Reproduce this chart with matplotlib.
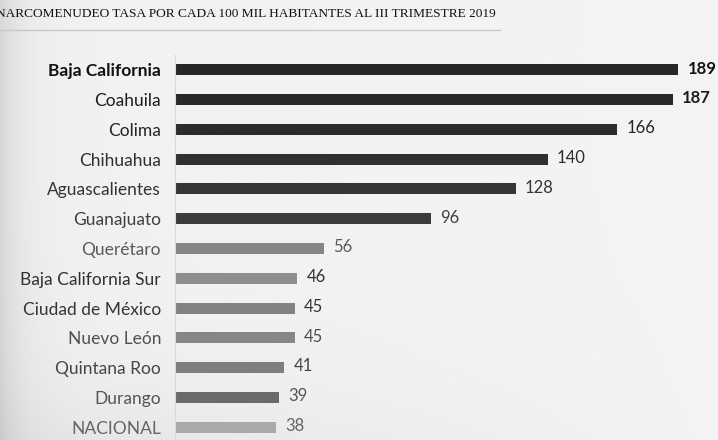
import numpy as np
import matplotlib.pyplot as plt

estados = ["Baja California", "Coahuila", "Colima", "Chihuahua", "Aguascalientes",
           "Guanajuato", "Querétaro", "Baja California Sur", "Ciudad de México",
           "Nuevo León", "Quintana Roo", "Durango", "NACIONAL"]
tasa = [189, 187, 166, 140, 128, 96, 56, 46, 45, 45, 41, 39, 38]

colores_barra = ["#262626", "#282828", "#2c2c2c", "#303030", "#363636", "#3c3c3c",
                 "#858585", "#8e8e8e", "#828282", "#868686", "#7e7e7e", "#6a6a6a", "#a9a9a9"]
colores_texto = ["#111111", "#1c1c1c", "#242424", "#2e2e2e", "#353535", "#404040",
                 "#5a5a5a", "#303030", "#353535", "#505050", "#454545", "#555555", "#656565"]

fig = plt.figure(figsize=(7.18, 4.40), dpi=100)
fig.patch.set_facecolor("#ecece9")

# fondo con sombra hacia la izquierda y abajo
bg = fig.add_axes([0, 0, 1, 1], zorder=-1)
xx = np.linspace(0, 1, 300)
yy = np.linspace(0, 1, 200)
X, Y = np.meshgrid(xx, yy)
sombra = 0.945 - 0.10 * np.exp(-X / 0.03) - 0.05 * np.exp(-(1 - Y) / 0.15) * (1 - X) + 0.01 * X
bg.imshow(sombra, cmap="gray", vmin=0, vmax=1, aspect="auto", extent=[0, 1, 0, 1])
bg.axis("off")

ax = fig.add_axes([175 / 718, 1 - 442 / 440, 543 / 718, 387 / 440])
ax.patch.set_alpha(0)
y = np.arange(len(estados))
ax.barh(y, tasa, height=0.37, color=colores_barra)
ax.set_xlim(0, 204)
ax.set_ylim(len(estados) - 0.5, -0.5)

for i, (v, c) in enumerate(zip(tasa, colores_texto)):
    ax.text(v + 3.5, i - 0.04, str(v), va="center", ha="left", fontsize=12,
            family="Lato", color=c, fontweight="bold" if i < 2 else "normal")

ax.set_yticks(y)
ax.set_yticklabels(estados, fontsize=12.5, family="Lato")
for lbl, c in zip(ax.get_yticklabels(), colores_texto):
    lbl.set_color(c)
ax.get_yticklabels()[0].set_fontweight("bold")
ax.tick_params(axis="y", length=0, pad=10)
ax.set_xticks([])
for s in ["top", "right", "bottom"]:
    ax.spines[s].set_visible(False)
ax.spines["left"].set_color("#d8d8d8")
ax.spines["left"].set_linewidth(0.8)

# titulo y linea debajo
fig.text(-4 / 718, 1 - 14 / 440, "NARCOMENUDEO TASA POR CADA 100 MIL HABITANTES AL III TRIMESTRE 2019",
         fontsize=9.6, family="Liberation Serif", color="#111111", va="center", ha="left")
fig.add_artist(plt.Line2D([0, 500 / 718], [1 - 30 / 440, 1 - 30 / 440],
                          color="#c8c8c8", linewidth=1.0, transform=fig.transFigure))

fig.savefig("out.png", dpi=100, facecolor=fig.get_facecolor())
